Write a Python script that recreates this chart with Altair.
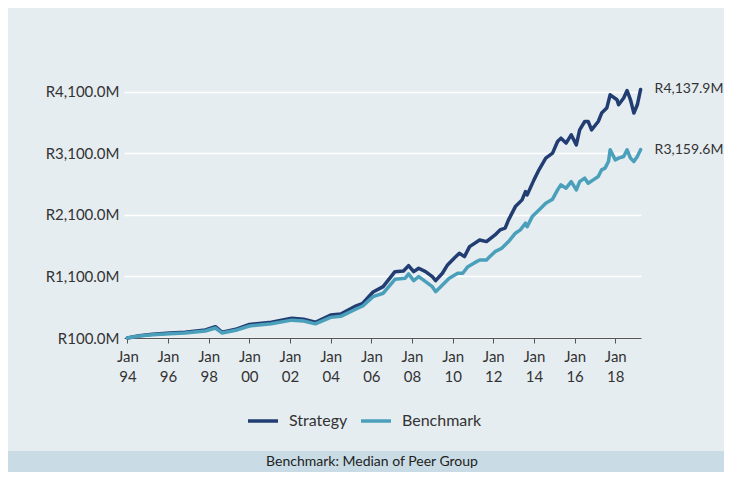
import altair as alt
import pandas as pd

# ---- data ----
series_names = ["Strategy", "Benchmark"]

strategy_dates = [
    "1994-01-01", "1994-08-01", "1995-04-01", "1996-02-01", "1996-11-01", "1997-11-01",
    "1998-05-01", "1998-09-01", "1999-05-01", "2000-01-01", "2001-02-01", "2002-02-01",
    "2002-09-01", "2003-04-01", "2004-01-01", "2004-07-01", "2005-03-01", "2005-08-01",
    "2006-02-01", "2006-08-01", "2007-03-01", "2007-08-01", "2007-11-01", "2008-02-01",
    "2008-05-01", "2008-09-01", "2009-01-01", "2009-03-01", "2009-07-01", "2009-10-01",
    "2010-02-01", "2010-05-01", "2010-08-01", "2010-11-01", "2011-05-01", "2011-09-01",
    "2012-02-01", "2012-05-01", "2012-08-01", "2012-10-01", "2013-02-01", "2013-06-01",
    "2013-08-01", "2013-09-01", "2014-01-01", "2014-04-01", "2014-08-01", "2014-12-01",
    "2015-03-01", "2015-05-01", "2015-08-01", "2015-11-01", "2016-02-01", "2016-04-01",
    "2016-07-01", "2016-09-01", "2016-11-01", "2017-03-01", "2017-05-01", "2017-08-01",
    "2017-10-01", "2018-02-01", "2018-03-01", "2018-06-01", "2018-08-01", "2018-10-01",
    "2018-12-01", "2019-02-01", "2019-04-01",
]
strategy_values = [
    100, 137, 160, 181, 193, 230,
    284, 193, 241, 320, 355, 420,
    404, 355, 474, 490, 609, 664,
    848, 934, 1178, 1189, 1276, 1178,
    1233, 1178, 1097, 1032, 1152, 1287,
    1400, 1476, 1422, 1585, 1693, 1666,
    1775, 1856, 1884, 2019, 2235, 2344,
    2479, 2425, 2669, 2832, 3022, 3103,
    3292, 3347, 3266, 3401, 3238, 3482,
    3617, 3617, 3482, 3617, 3754, 3835,
    4051, 3970, 3889, 3998, 4121, 3970,
    3754, 3889, 4137.9,
]

benchmark_dates = [
    "1994-01-01", "1994-08-01", "1995-04-01", "1996-02-01", "1996-11-01", "1997-11-01",
    "1998-05-01", "1998-09-01", "1999-05-01", "2000-01-01", "2001-02-01", "2002-02-01",
    "2002-09-01", "2003-04-01", "2004-01-01", "2004-07-01", "2005-05-01", "2005-08-01",
    "2006-02-01", "2006-08-01", "2007-03-01", "2007-09-01", "2007-11-01", "2008-02-01",
    "2008-05-01", "2008-09-01", "2009-01-01", "2009-03-01", "2009-07-01", "2009-11-01",
    "2010-04-01", "2010-07-01", "2010-10-01", "2011-02-01", "2011-05-01", "2011-09-01",
    "2011-11-01", "2012-02-01", "2012-06-01", "2012-10-01", "2013-02-01", "2013-05-01",
    "2013-08-01", "2013-09-01", "2013-12-01", "2014-04-01", "2014-08-01", "2014-12-01",
    "2015-03-01", "2015-05-01", "2015-08-01", "2015-11-01", "2016-02-01", "2016-04-01",
    "2016-07-01", "2016-09-01", "2016-12-01", "2017-03-01", "2017-05-01", "2017-07-01",
    "2017-09-01", "2017-10-01", "2018-01-01", "2018-03-01", "2018-06-01", "2018-08-01",
    "2018-10-01", "2018-12-01", "2019-02-01", "2019-04-01",
]
benchmark_values = [
    100, 132, 152, 170, 181, 213,
    262, 180, 225, 295, 330, 390,
    375, 330, 435, 452, 583, 620,
    772, 827, 1054, 1071, 1141, 1032,
    1097, 1016, 934, 853, 962, 1071,
    1152, 1152, 1259, 1324, 1368, 1368,
    1422, 1503, 1559, 1666, 1802, 1856,
    1965, 1910, 2072, 2180, 2290, 2355,
    2506, 2588, 2534, 2641, 2506, 2641,
    2697, 2615, 2669, 2723, 2832, 2859,
    2967, 3157, 2994, 3022, 3048, 3157,
    3022, 2967, 3048, 3159.6,
]

y_tick_values = [100, 1100, 2100, 3100, 4100]
x_tick_years = list(range(1994, 2020))
footer_text = "Benchmark: Median of Peer Group"

# ---- tables ----
df = pd.concat([
    pd.DataFrame({"date": strategy_dates, "value": strategy_values, "series": series_names[0]}),
    pd.DataFrame({"date": benchmark_dates, "value": benchmark_values, "series": series_names[1]}),
], ignore_index=True)
df_end = pd.DataFrame({
    "date": [strategy_dates[-1], benchmark_dates[-1]],
    "value": [strategy_values[-1], benchmark_values[-1]],
    "series": series_names,
})
df_footer = pd.DataFrame({"t": [footer_text]})

FONT = "Lato"
TEXT = "#333333"

# layout (pixels)
W, H = 517, 277
PAD_L, PAD_T = 116, 53
TOTAL_W, TOTAL_H = 716, 464

color_scale = alt.Scale(domain=series_names, range=["#213d72", "#4aa0bb"])

x_enc = alt.X(
    "date:T",
    title=None,
    scale=alt.Scale(
        type="utc",
        domain=[alt.DateTime(year=1993, month=11, date=1, utc=True),
                alt.DateTime(year=2019, month=4, date=8, utc=True)],
    ),
    axis=alt.Axis(
        values=[alt.DateTime(year=yr, month=1, date=1, utc=True) for yr in x_tick_years],
        labelExpr="utcyear(datum.value) % 2 == 0 ? ['Jan', utcFormat(datum.value, '%y')] : ''",
        grid=False,
        domainColor="#555555",
        tickColor="#555555",
        tickSize=5,
        labelPadding=6,
        labelLineHeight=20,
        labelFontSize=15,
        labelFont=FONT,
        labelColor=TEXT,
        labelAngle=0,
    ),
)
y_enc = alt.Y(
    "value:Q",
    title=None,
    scale=alt.Scale(domain=[100, 4600], nice=False, zero=False),
    axis=alt.Axis(
        values=y_tick_values,
        labelExpr="'R' + format(datum.value, ',.1f') + 'M'",
        grid=True,
        gridColor="#ffffff",
        gridWidth=1.5,
        domain=False,
        ticks=False,
        labelPadding=5,
        labelFontSize=15,
        labelFont=FONT,
        labelColor=TEXT,
    ),
)

band = alt.Chart(df_footer).mark_rect(color="#c9dce5").encode(
    x=alt.value(-PAD_L), x2=alt.value(TOTAL_W - PAD_L),
    y=alt.value(451 - 8 - PAD_T), y2=alt.value(TOTAL_H - PAD_T + 10),
)

footer = alt.Chart(df_footer).mark_text(
    fontSize=14, font=FONT, color="#222222", align="center", baseline="middle"
).encode(
    text="t:N",
    x=alt.value(372 - 8 - PAD_L), y=alt.value(461.5 - 8 - PAD_T),
)

lines = alt.Chart(df).mark_line(strokeWidth=3.5, strokeJoin="round", strokeCap="round").encode(
    x=x_enc,
    y=y_enc,
    color=alt.Color(
        "series:N",
        scale=color_scale,
        legend=alt.Legend(
            title=None,
            orient="none",
            legendX=122,
            legendY=343,
            direction="horizontal",
            symbolType="stroke",
            symbolStrokeWidth=3.5,
            symbolSize=900,
            labelFontSize=16,
            labelFont=FONT,
            labelColor=TEXT,
            labelOffset=9,
            columnPadding=6,
            padding=0,
        ),
    ),
    detail="series:N",
)

end_labels = alt.Chart(df_end).transform_calculate(
    label="'R' + format(datum.value, ',.1f') + 'M'"
).mark_text(align="left", baseline="middle", dx=14, fontSize=14, font=FONT, color=TEXT).encode(
    x="date:T",
    y="value:Q",
    text="label:N",
)

chart = alt.layer(band, lines, end_labels, footer).properties(
    width=W,
    height=H,
    autosize=alt.AutoSizeParams(type="none"),
    padding={"left": PAD_L, "top": PAD_T, "right": TOTAL_W - PAD_L - W, "bottom": TOTAL_H - PAD_T - H},
    background="#e6edf1",
).configure_view(strokeWidth=0)

chart.save("out.html", embed_options={"renderer": "svg", "actions": False})
